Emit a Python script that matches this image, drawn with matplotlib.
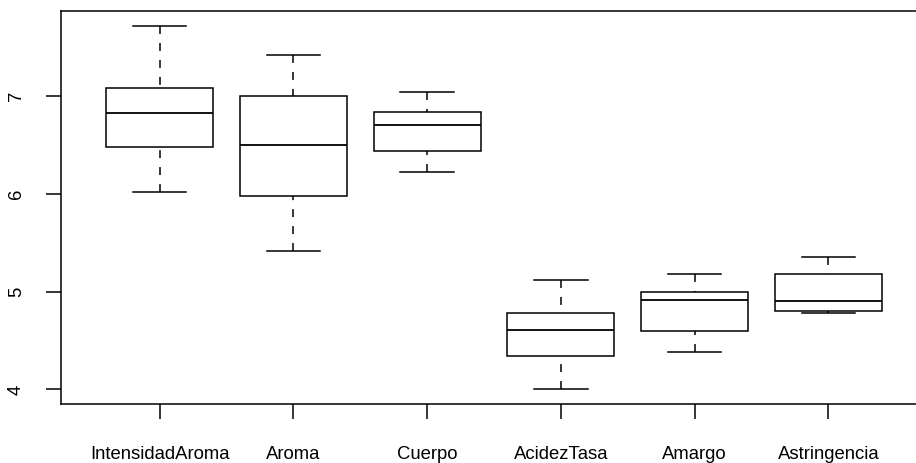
import matplotlib
matplotlib.use("Agg")
import matplotlib.pyplot as plt

plt.rcParams['font.family'] = ['Liberation Sans', 'DejaVu Sans']

categories = ["IntensidadAroma", "Aroma", "Cuerpo", "AcidezTasa", "Amargo", "Astringencia"]
whisker_low = [6.02, 5.42, 6.22, 4.00, 4.38, 4.78]
q1 = [6.48, 5.98, 6.44, 4.34, 4.60, 4.80]
medians = [6.83, 6.50, 6.71, 4.61, 4.91, 4.90]
q3 = [7.08, 7.00, 6.84, 4.78, 5.00, 5.18]
whisker_high = [7.72, 7.42, 7.04, 5.12, 5.18, 5.36]

stats = []
for i, name in enumerate(categories):
    stats.append({
        "label": name,
        "whislo": whisker_low[i],
        "q1": q1[i],
        "med": medians[i],
        "q3": q3[i],
        "whishi": whisker_high[i],
        "fliers": [],
    })

fig = plt.figure(figsize=(9.16, 4.63), dpi=100)
# right side of the R plot region is cut off in the reference
ax = fig.add_axes([60.7 / 916, 1 - 404 / 463, (927.4 - 60.7) / 916, (404 - 10.7) / 463])

lw = 1.1
positions = list(range(1, len(categories) + 1))
parts = ax.bxp(stats, positions=positions, widths=0.8, patch_artist=True,
               showfliers=False, capwidths=0.4,
               boxprops=dict(facecolor="white", edgecolor="black", linewidth=lw),
               medianprops=dict(color="black", linewidth=1.3),
               whiskerprops=dict(color="black", linewidth=lw, linestyle=(0, (5.2, 5.9))),
               capprops=dict(color="black", linewidth=lw))

# R draws whiskers from the cap towards the box
for line in parts["whiskers"]:
    x, y = line.get_data()
    line.set_data(list(x)[::-1], list(y)[::-1])

ax.set_xlim(0.26, 6.74)
ax.set_ylim(3.851, 7.875)
ax.set_yticks([4, 5, 6, 7])
ax.set_yticklabels(["4", "5", "6", "7"], rotation=90, va="center")
ax.set_xticks(positions)
ax.set_xticklabels(categories)

ax.tick_params(axis="both", length=10.8, width=lw, color="black", labelsize=13.3)
ax.tick_params(axis="x", pad=19.5)
ax.tick_params(axis="y", pad=15)
for spine in ax.spines.values():
    spine.set_linewidth(lw)

plt.savefig("out.png", dpi=100)
plt.close()
